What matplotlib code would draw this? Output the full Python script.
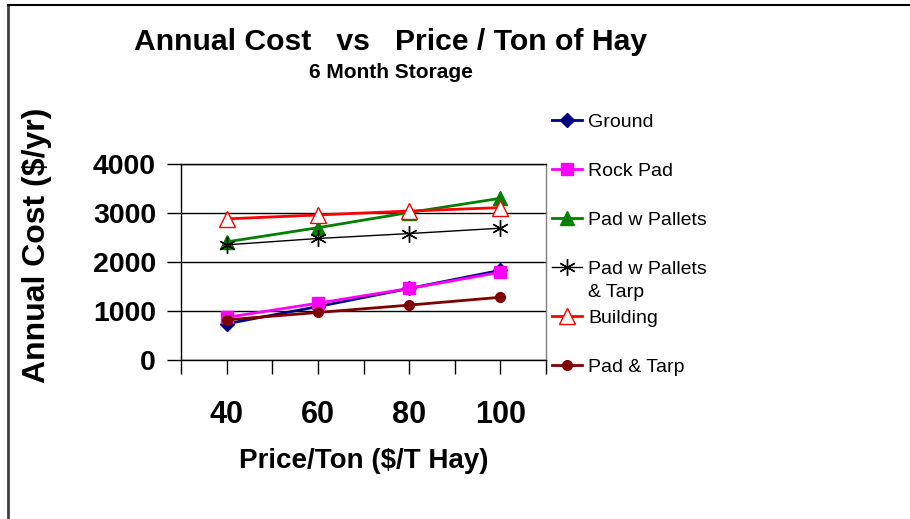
import matplotlib
matplotlib.use("Agg")
import matplotlib.pyplot as plt
from matplotlib.lines import Line2D

plt.rcParams['font.family'] = ['Liberation Sans', 'DejaVu Sans']

prices = ["40", "60", "80", "100"]
ground = [740, 1090, 1460, 1830]
rock_pad = [870, 1160, 1460, 1790]
pad_pallets = [2410, 2700, 3010, 3300]
pad_pallets_tarp = [2350, 2480, 2580, 2690]
building = [2880, 2960, 3040, 3110]
pad_tarp = [820, 970, 1120, 1280]
y_ticks = [0, 1000, 2000, 3000, 4000]

W, H = 910, 519
fig = plt.figure(figsize=(W / 100, H / 100), dpi=100)
ax = fig.add_axes([181 / W, 1 - 360 / H, (546 - 181) / W, (360 - 164) / H])

x = list(range(len(prices)))
series = [
    ("Ground", ground, dict(color="#000080", marker="D", ms=7, lw=2, mfc="#000080", mec="#000080")),
    ("Rock Pad", rock_pad, dict(color="#FF00FF", marker="s", ms=9, lw=2, mfc="#FF00FF", mec="#FF00FF")),
    ("Pad w Pallets", pad_pallets, dict(color="#008000", marker="^", ms=10, lw=2, mfc="#008000", mec="#008000")),
    ("Pad w Pallets", pad_pallets_tarp, dict(color="black", marker=(6, 2, 0), ms=12, lw=1, mfc="black", mec="black", mew=1)),
    ("Building", building, dict(color="#FF0000", marker="^", ms=12, lw=2, mfc="white", mec="#FF0000", mew=1)),
    ("Pad & Tarp", pad_tarp, dict(color="#800000", marker="o", ms=7, lw=2, mfc="#800000", mec="#800000")),
]
handles = []
for label, vals, st in series:
    h, = ax.plot(x, vals, label=label, clip_on=False, **st)
    handles.append(h)

ax.set_xlim(-0.5, len(prices) - 0.5)
ax.set_ylim(0, 4000)
ax.set_yticks(y_ticks)
ax.set_yticklabels([str(v) for v in y_ticks], fontsize=20.5, fontweight="bold")
ax.set_xticks(x)
ax.set_xticklabels(prices, fontsize=22, fontweight="bold")
ax.set_xticks([i - 0.5 for i in range(len(prices) + 1)], minor=True)
ax.tick_params(axis="x", which="both", direction="out", length=10, width=1, color="black")
ax.tick_params(axis="x", which="major", pad=19)
ax.tick_params(axis="y", direction="out", length=10, width=1, pad=8)
ax.yaxis.grid(True, color="black", lw=1)
ax.set_axisbelow(True)
for s in ["left", "bottom", "top"]:
    ax.spines[s].set_color("black")
    ax.spines[s].set_linewidth(1)
ax.spines["right"].set_color("#808080")
ax.spines["right"].set_linewidth(1)

ax.set_xlabel("Price/Ton ($/T Hay)", fontsize=20, fontweight="bold", labelpad=13)
ax.set_ylabel("Annual Cost ($/yr)", fontsize=23, fontweight="bold", va="center")
ax.yaxis.set_label_coords(37 / W, 1 - 245 / H, transform=fig.transFigure)

fig.text(391 / W, 1 - 42 / H, "Annual Cost   vs   Price / Ton of Hay", ha="center", va="center",
         fontsize=21.7, fontweight="bold")
fig.text(391 / W, 1 - 73 / H, "6 Month Storage", ha="center", va="center",
         fontsize=15, fontweight="bold")

leg = ax.legend(handles=handles, loc="upper left", bbox_to_anchor=(552 / W, 1 - 113 / H),
                bbox_transform=fig.transFigure, frameon=False, fontsize=14,
                handlelength=1.55, handletextpad=0.3, labelspacing=1.62, borderpad=0, borderaxespad=0)
fig.canvas.draw()
t = leg.get_texts()[3]
bb = t.get_window_extent()
fig.text(bb.x0 / fig.dpi / fig.get_figwidth(), (bb.y0 - 23) / (fig.dpi * fig.get_figheight()),
         "& Tarp", fontsize=14, ha="left", va="bottom")

# figure border (left and top)
fig.add_artist(Line2D([8 / W, 8 / W], [0, 1 - 5 / H], transform=fig.transFigure, color="#404040", lw=2))
fig.add_artist(Line2D([8 / W, 1], [1 - 5 / H, 1 - 5 / H], transform=fig.transFigure, color="black", lw=1.5))

fig.savefig("out.png", dpi=100)
